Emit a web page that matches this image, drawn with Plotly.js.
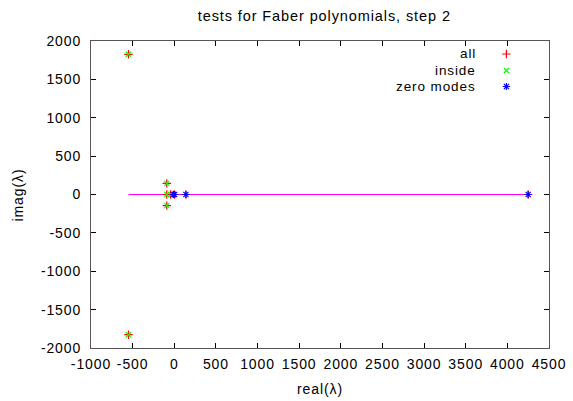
<!DOCTYPE html>
<html>
<head>
<meta charset="utf-8">
<script src="https://cdn.plot.ly/plotly-3.0.1.min.js"></script>
<style>
html,body{margin:0;padding:0;background:#fff;}
#chart{width:573px;height:401px;}
svg text{letter-spacing:0.9px;}
</style>
</head>
<body>
<div id="chart"></div>
<script>
// Data
const allRe   = [-550, -550, -90, -90, -90, -45, 0, 140, 4250];
const allIm   = [1827, -1827, 145, 0, -145, 0, 0, 0, 0];
const insideRe = [-550, -550, -90, -90, -90, -45];
const insideIm = [1827, -1827, 145, 0, -145, 0];
const zeroRe = [-10, 5, 140, 4250];
const zeroIm = [0, 0, 0, 0];
const lineRe = [-550, 4250];
const lineIm = [0, 0];
const legendNames = ["all", "inside", "zero modes"];
const xTicks = [-1000, -500, 0, 500, 1000, 1500, 2000, 2500, 3000, 3500, 4000, 4500];
const yTicks = [-2000, -1500, -1000, -500, 0, 500, 1000, 1500, 2000];
const xTitle = "real(λ)";
const yTitle = "imag(λ)";

const symbols = ["cross-thin-open", "x-thin-open", "asterisk-open"];
const mColors = ["#ff0000", "#00ff00", "#0000ff"];
const mSizes = [6, 5, 6];
const font = "Liberation Sans, Arial, sans-serif";
const fs = 14;

const traces = [
  {x: lineRe, y: lineIm, mode: "lines", line: {color: "#ff00ff", width: 1}, showlegend: false, hoverinfo: "skip"},
  {x: allRe, y: allIm, mode: "markers", name: legendNames[0], marker: {symbol: symbols[0], size: mSizes[0], color: mColors[0], line: {color: mColors[0], width: 1.2}}},
  {x: insideRe, y: insideIm, mode: "markers", name: legendNames[1], marker: {symbol: symbols[1], size: mSizes[1], color: mColors[1], line: {color: mColors[1], width: 1.2}}},
  {x: zeroRe, y: zeroIm, mode: "markers", name: legendNames[2], marker: {symbol: symbols[2], size: mSizes[2], color: mColors[2], line: {color: mColors[2], width: 1.2}}}
];

// Gnuplot-style legend: right-aligned text, sample marker on the right (overlay axes in paper units)
const legY = [0.9577, 0.9039, 0.8518];
const annotations = [];
legendNames.forEach((n, i) => {
  traces.push({x: [0.907], y: [legY[i]], xaxis: "x2", yaxis: "y2", mode: "markers", showlegend: false, hoverinfo: "skip",
    marker: {symbol: symbols[i], size: mSizes[i], color: mColors[i], line: {color: mColors[i], width: 1.2}}});
  annotations.push({xref: "paper", yref: "paper", x: 0.843, y: legY[i], xanchor: "right", yanchor: "middle",
    borderpad: 0,
    text: n, showarrow: false, font: {family: font, size: 13.5, color: "#000"}});
});
annotations.push({xref: "paper", yref: "paper", x: 0.5, y: -0.1336, xanchor: "center", yanchor: "middle",
  text: xTitle, showarrow: false, font: {family: font, size: fs, color: "#000"}});
annotations.push({xref: "paper", yref: "paper", x: -0.1594, y: 0.5, xanchor: "center", yanchor: "middle", textangle: -90,
  text: yTitle, showarrow: false, font: {family: font, size: fs, color: "#000"}});

const layout = {
  width: 573, height: 401,
  margin: {l: 91, r: 24, t: 41, b: 53},
  paper_bgcolor: "#fff", plot_bgcolor: "#fff",
  showlegend: false,
  title: {text: "tests for Faber polynomials, step 2", x: 0.566, xanchor: "center", y: 0.96, yanchor: "middle",
    font: {family: font, size: 14.5, color: "#000"}},
  xaxis: {range: [-1000, 4500], tickvals: xTicks, ticktext: xTicks.map(String), ticks: "inside", ticklen: 5,
    tickcolor: "#000", mirror: "ticks", showline: true, linecolor: "#555", linewidth: 1, showgrid: false, zeroline: false,
    ticklabelstandoff: 3,
    tickfont: {family: font, size: fs, color: "#000"}},
  yaxis: {range: [-2000, 2000], tickvals: yTicks, ticktext: yTicks.map(String), ticks: "inside", ticklen: 5,
    tickcolor: "#000", mirror: "ticks", showline: true, linecolor: "#555", linewidth: 1, showgrid: false, zeroline: false,
    ticklabelstandoff: 6,
    tickfont: {family: font, size: fs, color: "#000"}},
  xaxis2: {overlaying: "x", range: [0, 1], visible: false, fixedrange: true},
  yaxis2: {overlaying: "y", range: [0, 1], visible: false, fixedrange: true},
  annotations: annotations
};

Plotly.newPlot("chart", traces, layout, {displayModeBar: false, staticPlot: true});
</script>
</body>
</html>
